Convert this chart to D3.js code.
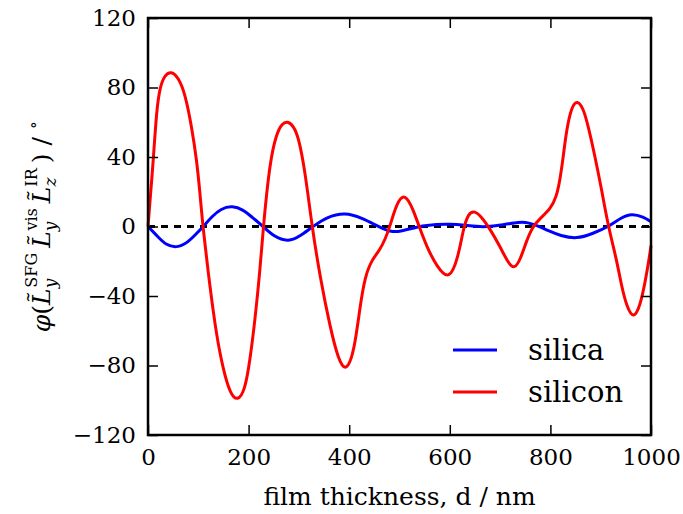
<!DOCTYPE html>
<html>
<head>
<meta charset="utf-8">
<script src="https://cdn.jsdelivr.net/npm/d3@7"></script>
<style>
  html, body { margin: 0; padding: 0; background: #fff; }
  svg { display: block; }
  text { font-family: "DejaVu Serif", serif; fill: #000; }
</style>
</head>
<body>
<svg id="chart" width="683" height="514"></svg>
<script>
// Phase angle vs. film thickness for two substrates
const siliconThickness = [0, 10.6, 17, 24, 33, 45.7, 60, 73.6, 86.8, 96.8, 103.4, 109, 123, 136.5, 149.8, 163, 178, 193, 202.8, 212.7, 222.7, 229.2, 242.5, 255.8, 266, 277, 289, 299, 312, 326, 342, 361.8, 378.4, 394, 410, 421.5, 431.4, 444.7, 461, 472, 481, 494, 511, 527.5, 539, 554, 574, 599, 617, 627, 637, 649, 663, 679, 700, 716, 728, 740, 753, 765, 779, 800, 812, 819, 825.6, 832, 842, 853.5, 865.5, 875.5, 888.7, 902, 915, 931.8, 941.7, 951.7, 965, 978, 988, 997, 1000];
const silicon = [0, 38, 67, 80.5, 87, 89.5, 86, 76.7, 57.4, 38.3, 19, 0, -34.6, -63.4, -82.6, -96, -100.8, -94, -76.8, -53.8, -25, 0, 38, 53.6, 59, 60.7, 58, 51.7, 32.5, 0, -28.9, -57.7, -76.8, -84, -72, -46, -28.9, -19.3, -13.5, -7, 0, 13.4, 19.5, 9.5, 0, -11.6, -23, -31.5, -17.4, -1, 7.6, 9.1, 5.6, -1, -11.6, -21, -24.6, -19.3, -7.8, 0, 4.5, 10, 17, 26.8, 40.2, 55.5, 69, 72.8, 68, 57.4, 40.2, 21, 0, -19.3, -34.6, -46, -53.4, -46, -32.7, -17.4, -11];

const silicaThickness = [0, 20, 35, 57, 80, 95, 110, 126.6, 145, 167.7, 190, 206, 229, 250, 279, 305, 328, 355, 392, 425, 458, 484.5, 505, 527, 544, 574, 600, 627, 667, 700, 740, 753, 779, 800, 819, 852, 885, 916, 940, 962, 985, 1000];
const silica = [0, -6, -10.5, -12.5, -9, -4.5, 0, 5.6, 10.3, 12, 9.5, 5.6, 0, -5.8, -9.1, -5, 0, 5.5, 8.2, 5, 0, -3.5, -2.5, -1, 0.3, 1.3, 1.4, 0.9, -0.6, 0.8, 2.6, 2.5, 0, -3, -5.2, -7.3, -4, 0, 5, 7.6, 5.5, 2.8];

const xTicks = [0, 200, 400, 600, 800, 1000];
const yTicks = [-120, -80, -40, 0, 40, 80, 120];

const seriesNames = ["silica", "silicon"];
const seriesColors = ["#0000ff", "#ff0000"];

const svg = d3.select("#chart");
const margin = { left: 148, right: 32, top: 18, bottom: 79 };
const W = 683, H = 514;
const x = d3.scaleLinear().domain([0, 1000]).range([margin.left, W - margin.right]);
const y = d3.scaleLinear().domain([-120, 120]).range([H - margin.bottom, margin.top]);

const fmt = v => (v < 0 ? "\u2212" + Math.abs(v) : String(v));
const tickLen = 10;

// zero reference line
svg.append("line")
  .attr("x1", x(0)).attr("x2", x(1000))
  .attr("y1", y(0)).attr("y2", y(0))
  .attr("stroke", "#000").attr("stroke-width", 3)
  .attr("stroke-dasharray", "7,6");

const line = d3.line().curve(d3.curveBasis);

svg.append("path")
  .datum(silicaThickness.map((d, i) => [x(d), y(silica[i])]))
  .attr("d", line).attr("fill", "none")
  .attr("stroke", seriesColors[0]).attr("stroke-width", 3);

svg.append("path")
  .datum(siliconThickness.map((d, i) => [x(d), y(silicon[i])]))
  .attr("d", line).attr("fill", "none")
  .attr("stroke", seriesColors[1]).attr("stroke-width", 3);

// axes with inward ticks on all four sides
const axB = d3.axisBottom(x).tickValues(xTicks).tickSizeInner(-tickLen).tickSizeOuter(0).tickPadding(14).tickFormat(fmt);
const axT = d3.axisTop(x).tickValues(xTicks).tickSizeInner(-tickLen).tickSizeOuter(0).tickFormat("");
const axL = d3.axisLeft(y).tickValues(yTicks).tickSizeInner(-tickLen).tickSizeOuter(0).tickPadding(12).tickFormat(fmt);
const axR = d3.axisRight(y).tickValues(yTicks).tickSizeInner(-tickLen).tickSizeOuter(0).tickFormat("");

function styleAxis(g) {
  g.select(".domain").remove();
  g.selectAll(".tick line").attr("stroke", "#000").attr("stroke-width", 1.5);
  g.selectAll(".tick text").style("font-family", "DejaVu Serif").style("font-size", "23px").attr("fill", "#000");
}
svg.append("g").attr("transform", `translate(0,${y(-120)})`).call(axB).call(styleAxis);
svg.append("g").attr("transform", `translate(0,${y(120)})`).call(axT).call(styleAxis);
svg.append("g").attr("transform", `translate(${x(0)},0)`).call(axL).call(styleAxis);
svg.append("g").attr("transform", `translate(${x(1000)},0)`).call(axR).call(styleAxis);

// frame
svg.append("rect")
  .attr("x", x(0)).attr("y", y(120))
  .attr("width", x(1000) - x(0)).attr("height", y(-120) - y(120))
  .attr("fill", "none").attr("stroke", "#000").attr("stroke-width", 2.5);

// x label
svg.append("text")
  .attr("x", (x(0) + x(1000)) / 2).attr("y", 505)
  .attr("text-anchor", "middle").style("font-size", "25px")
  .text("film thickness, d / nm");

// y label (rotated), built from tspans
const yl = svg.append("text")
  .attr("transform", `translate(50,${(y(120) + y(-120)) / 2}) rotate(-90)`)
  .attr("text-anchor", "middle").style("font-size", "25px");
function L(sub, sup) {
  yl.append("tspan").style("font-style", "italic").text("L\u0303");
  yl.append("tspan").attr("dy", 6).style("font-size", "17px").style("font-style", "italic").text(sub);
  yl.append("tspan").attr("dy", -19).attr("dx", -9).style("font-size", "16px").text(sup);
  yl.append("tspan").attr("dy", 13).text("\u2009");
}
yl.append("tspan").style("font-style", "italic").text("\u03c6");
yl.append("tspan").text("(");
L("y", "SFG");
L("y", "vis");
L("z", "IR");
yl.append("tspan").text(") / ");
yl.append("tspan").attr("dy", -11).style("font-size", "17px").text("\u2218");

// legend
const lg = svg.append("g");
seriesNames.forEach((name, i) => {
  const yy = 350 + i * 42;
  lg.append("line").attr("x1", 453).attr("x2", 497).attr("y1", yy).attr("y2", yy)
    .attr("stroke", seriesColors[i]).attr("stroke-width", 3);
  lg.append("text").attr("x", 528).attr("y", yy + 10).style("font-size", "29px").text(name);
});
</script>
</body>
</html>
